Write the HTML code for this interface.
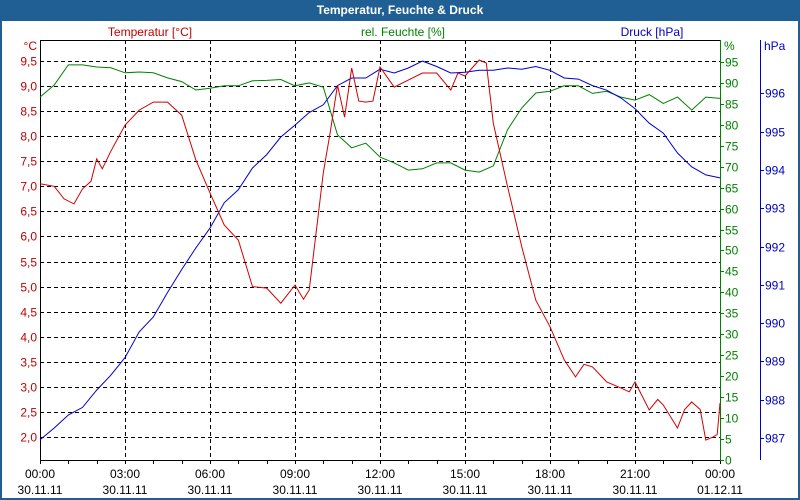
<!DOCTYPE html>
<html><head><meta charset="utf-8"><style>
body{margin:0;width:800px;height:500px;overflow:hidden;background:#fff;font-family:"Liberation Sans",sans-serif}
svg{display:block}
text{font-family:"Liberation Sans",sans-serif;font-size:12px}
</style></head><body>
<svg id="c" width="800" height="500">
<rect x="0" y="0" width="800" height="500" fill="#1f5f94"/>
<rect x="2" y="21" width="796" height="477" fill="#fff"/>
<text x="400" y="14" text-anchor="middle" fill="#fff" font-weight="bold" style="font-size:12px">Temperatur, Feuchte &amp; Druck</text>
<text x="150" y="36" text-anchor="middle" fill="#c00000">Temperatur [°C]</text>
<text x="403" y="36" text-anchor="middle" fill="#008000">rel. Feuchte [%]</text>
<text x="652" y="36" text-anchor="middle" fill="#0000c0">Druck [hPa]</text>
<text x="37" y="50" text-anchor="end" fill="#c00000">°C</text>
<text x="724" y="50" fill="#008000">%</text>
<text x="764" y="50" fill="#0000c0">hPa</text>
<g id="grid" shape-rendering="crispEdges"></g><g id="axes" shape-rendering="crispEdges"></g><g id="series"></g>
</svg>
<script>
const hours=[0,0.5,1,1.5,2,2.5,3,3.5,4,4.5,5,5.5,6,6.5,7,7.5,8,8.5,9,9.5,10,10.5,11,11.5,12,12.5,13,13.5,14,14.5,15,15.5,16,16.5,17,17.5,18,18.5,19,19.5,20,20.5,21,21.5,22,22.5,23,23.5,24];
const tempHours=[0,0.5,0.85,1.2,1.5,1.8,2.0,2.2,2.5,3,3.5,4,4.5,5,5.5,6,6.5,7,7.5,8,8.5,9,9.3,9.5,10,10.25,10.5,10.75,11,11.25,11.5,11.75,12,12.5,13,13.5,14,14.5,14.75,15,15.5,15.75,16,16.5,17,17.5,18,18.5,18.9,19.2,19.5,20,20.5,20.8,21,21.5,21.8,22,22.5,22.75,23,23.3,23.5,23.75,23.9,24];
const tempValues=[7.05,7.0,6.75,6.65,6.95,7.1,7.55,7.35,7.7,8.22,8.52,8.68,8.68,8.42,7.53,6.87,6.23,5.93,5.0,4.97,4.67,5.03,4.75,4.93,7.27,8.1,9.02,8.38,9.36,8.7,8.68,8.7,9.38,8.98,9.12,9.26,9.26,8.92,9.26,9.2,9.52,9.46,8.26,7.0,5.8,4.73,4.2,3.54,3.2,3.45,3.4,3.1,2.98,2.9,3.1,2.54,2.75,2.64,2.18,2.55,2.7,2.55,1.94,2.0,2.05,2.68];
const humValues=[86.6,89.5,94.3,94.3,93.8,93.6,92.4,92.6,92.4,91.2,90.3,88.3,88.7,89.3,89.3,90.5,90.6,90.8,89.3,90,89,77.6,74.5,75.6,72.3,70.9,69.2,69.5,70.9,70.9,69.2,68.7,70.2,78.8,84,87.6,88,89.3,89.3,87.5,88,86.6,85.9,87.2,85.1,86.6,83.5,86.6,86.3];
const presValues=[986.95,987.26,987.6,987.8,988.25,988.64,989.1,989.77,990.16,990.8,991.4,991.96,992.48,993.14,993.48,994.05,994.4,994.86,995.17,995.5,995.7,996.2,996.4,996.4,996.63,996.53,996.66,996.84,996.7,996.53,996.55,996.6,996.6,996.66,996.63,996.7,996.6,996.4,996.37,996.2,996.08,995.88,995.6,995.22,994.96,994.44,994.08,993.87,993.79];
const tempTicks=["2,0","2,5","3,0","3,5","4,0","4,5","5,0","5,5","6,0","6,5","7,0","7,5","8,0","8,5","9,0","9,5"];
const humTicks=[0,5,10,15,20,25,30,35,40,45,50,55,60,65,70,75,80,85,90,95];
const presTicks=[987,988,989,990,991,992,993,994,995,996];
const timeLabels=["00:00","03:00","06:00","09:00","12:00","15:00","18:00","21:00","00:00"];
const dateLabels=["30.11.11","30.11.11","30.11.11","30.11.11","30.11.11","30.11.11","30.11.11","30.11.11","01.12.11"];

const L=40,R=720,T=40,B=460;
const X=h=>L+h*(R-L)/24;
const YT=v=>61+(9.5-v)*50.14;
const YH=v=>B-v*4.19;
const YP=v=>438-(v-987)*38.3;
const NS="http://www.w3.org/2000/svg";
const px=v=>Math.round(v)+0.5;
function mk(tag,parent,attrs){const e=document.createElementNS(NS,tag);for(const k in attrs)e.setAttribute(k,attrs[k]);parent.appendChild(e);return e;}
const grid=document.getElementById('grid'),axes=document.getElementById('axes'),series=document.getElementById('series');
tempTicks.forEach((t,i)=>{const v=2+i*0.5,y=px(YT(v));
 const g=mk('line',grid,{x1:L,x2:R,y1:y,y2:y,stroke:'#000','stroke-dasharray':'4,3'});
 
 
 const tx=mk('text',axes,{x:37,y:y+4,'text-anchor':'end',fill:'#c00000'});tx.textContent=t;
 
 
});
for(let h=3;h<24;h+=3){const x=px(X(h));const g=mk('line',grid,{x1:x,x2:x,y1:T,y2:B,stroke:'#000','stroke-dasharray':'4,3'});
 
 }
let a=mk('line',axes,{x1:L+0.5,x2:L+0.5,y1:T,y2:B,stroke:'#000'});
a=mk('line',axes,{x1:L,x2:R,y1:T+0.5,y2:T+0.5,stroke:'#000'});
a=mk('line',axes,{x1:L,x2:R,y1:B+0.5,y2:B+0.5,stroke:'#000'});
a=mk('line',axes,{x1:R+0.5,x2:R+0.5,y1:T,y2:B+1,stroke:'#008000'});
a=mk('line',axes,{x1:760.5,x2:760.5,y1:T,y2:B,stroke:'#0000c0'});
for(let h=0;h<=24;h++){const x=px(X(h));const t=mk('line',axes,{x1:x,x2:x,y1:B,y2:B+4,stroke:'#000'});
 
 }
timeLabels.forEach((s,i)=>{const x=X(i*3);
 const t=mk('text',axes,{x:x,y:478,'text-anchor':'middle',fill:'#000'});t.textContent=s;
 
 
 const d=mk('text',axes,{x:x,y:494,'text-anchor':'middle',fill:'#000'});d.textContent=dateLabels[i];
 
 });
humTicks.forEach(v=>{const y=px(YH(v));
 const t=mk('line',axes,{x1:R,x2:R+4,y1:y,y2:y,stroke:'#008000'});
 
 
 const tx=mk('text',axes,{x:725,y:y+4,fill:'#008000'});tx.textContent=v;
 
 });
presTicks.forEach(v=>{const y=px(YP(v));
 const t=mk('line',axes,{x1:760,x2:764,y1:y,y2:y,stroke:'#0000c0'});
 
 
 const tx=mk('text',axes,{x:765,y:y+4,fill:'#0000c0'});tx.textContent=v;
 
 });
function line(xs,vals,fy,color,name){const p=mk('polyline',series,{points:vals.map((v,i)=>X(xs[i]).toFixed(1)+','+fy(v).toFixed(1)).join(' '),fill:'none',stroke:color,'stroke-width':1});
 
 }
line(hours,humValues,YH,'#008000','humidity-line');
line(hours,presValues,YP,'#0000d0','pressure-line');
line(tempHours,tempValues,YT,'#d00000','temperature-line');
</script>
</body></html>
